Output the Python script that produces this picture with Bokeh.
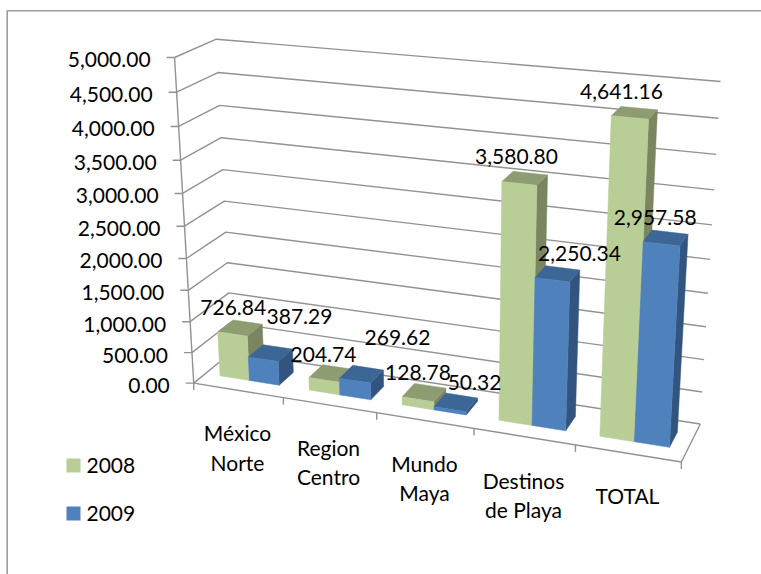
import numpy as np
from bokeh.plotting import figure
from bokeh.models import Range1d
from bokeh.core.properties import value
from bokeh.embed import file_html
from bokeh.resources import INLINE

# ---------- data ----------
categories = ["México Norte", "Region Centro", "Mundo Maya", "Destinos de Playa", "TOTAL"]
cat_lines = [["México", "Norte"], ["Region", "Centro"], ["Mundo", "Maya"], ["Destinos", "de Playa"], ["TOTAL"]]
values_2008 = [726.84, 204.74, 128.78, 3580.80, 4641.16]
values_2009 = [387.29, 269.62, 50.32, 2250.34, 2957.58]
ticks = [0, 500, 1000, 1500, 2000, 2500, 3000, 3500, 4000, 4500, 5000]
tick_labels = ["%s" % format(t, ",.2f") for t in ticks]
series_names = ["2008", "2009"]

# ---------- layout: calibration of the 3-D view (pixel landmarks) ----------
FL = [(193,383),(191,352),(189,321),(188,290),(186,258),(184.5,226),(183,193),(181,159),(178,125.5),(176,91),(174,57)]
BL = [(232,350),(230,321.5),(228,292.5),(227,263),(225,232),(224,201),(222,170),(220,137),(219,105),(217,72),(216,38.7)]
BR = [(700,423),(702,392),(703.7,359),(705.7,326),(708.3,292),(709.3,259),(711.7,225),(713.3,189),(715.7,154),(717.7,118),(720,81)]
FRONT = [(283,398),(376.7,412),(472.7,429),(574.3,444.3),(680.7,461)]

obj, img = [], []
for t, a, b, c in zip(ticks, FL, BL, BR):
    obj += [(0, 0, t), (0, 1, t), (5, 1, t)]
    img += [a, b, c]
for i, f in enumerate(FRONT):
    obj.append((i + 1, 0, 0))
    img.append(f)
S = 700.0
A = []
for (u, d, z), (x, y) in zip(obj, img):
    X = [u / 5, d, z / 5000, 1]
    x, y = x / S, y / S
    A.append(X + [0, 0, 0, 0] + [-x * v for v in X])
    A.append([0, 0, 0, 0] + X + [-y * v for v in X])
P = np.linalg.svd(np.array(A))[2][-1].reshape(3, 4)

def proj(u, d, z):
    h = P @ np.array([u / 5, d, z / 5000, 1.0])
    return (S * h[0] / h[2], S * h[1] / h[2])

p = figure(width=761, height=574, x_range=Range1d(0, 761), y_range=Range1d(574, 0),
           x_axis_type=None, y_axis_type=None, toolbar_location=None,
           output_backend="svg", min_border=0, outline_line_color=None,
           background_fill_color="white", border_fill_color="white")
p.margin = (0, 0, 0, 0)

GRID = "#929292"
# chart frame
p.line([6.7, 6.7, 761], [574, 10.3, 10.3], line_color="#9c9c9c", line_width=1.6)

# walls
xs, ys = [], []
for t in ticks:
    pts = [proj(0, 0, t), proj(0, 1, t), proj(5, 1, t)]
    xs.append([q[0] for q in pts]); ys.append([q[1] for q in pts])
    a = proj(0, 0, t)
    xs.append([a[0] - 8, a[0]]); ys.append([a[1], a[1]])
# vertical axis
a, b = proj(0, 0, 0), proj(0, 0, 5000)
xs.append([a[0], b[0]]); ys.append([a[1], b[1]])
# floor
pts = [proj(0, 0, 0), proj(5, 0, 0), proj(5, 1, 0)]
xs.append([q[0] for q in pts]); ys.append([q[1] for q in pts])
for i in range(6):
    a = proj(i, 0, 0)
    xs.append([a[0], a[0]]); ys.append([a[1], a[1] + 7])
p.multi_line(xs, ys, line_color=GRID, line_width=1.4)

# bars, painted left to right
U0, UW, D0, D1 = 1 / 6, 1 / 3, 0.3, 0.7
COL = [("#B9CD96", "#8E9C72", "#7B8560"), ("#4F81BD", "#3C6695", "#31557F")]
bx, by, bc = [], [], []
def face(pts, c):
    bx.append([q[0] for q in pts]); by.append([q[1] for q in pts]); bc.append(c)
for i in range(len(categories)):
    for s, vals in enumerate([values_2008, values_2009]):
        v = vals[i]
        l, r = i + U0 + s * UW, i + U0 + (s + 1) * UW
        front, top, side = COL[s]
        face([proj(r, D0, 0), proj(r, D1, 0), proj(r, D1, v), proj(r, D0, v)], side)
        face([proj(l, D0, v), proj(r, D0, v), proj(r, D1, v), proj(l, D1, v)], top)
        face([proj(l, D0, 0), proj(r, D0, 0), proj(r, D0, v), proj(l, D0, v)], front)
p.patches(bx, by, fill_color=bc, line_color=bc, line_width=0.5)

FONT = value("Lato")
SIZE = "21px"
TXT = dict(text_font=FONT, text_font_size=SIZE, text_color="#000000", text_baseline="middle")

# value-axis labels
p.text([proj(0, 0, t)[0] - 24 for t in ticks], [proj(0, 0, t)[1] + 2.5 for t in ticks],
       text=tick_labels, text_align="right", **TXT)

# category labels
CAT_X = [237, 328, 424, 523, 627]
CAT_Y = [[431.5, 461.5], [446.5, 475.5], [462.5, 491.5], [479.5, 508.5], [494.5]]
tx, ty, tt = [], [], []
for x, yl, ll in zip(CAT_X, CAT_Y, cat_lines):
    for y, t in zip(yl, ll):
        tx.append(x); ty.append(y); tt.append(t)
p.text(tx, ty, text=tt, text_align="center", **TXT)

# data labels
LBL_2008 = [(232.7, 307), (323, 354), (417.5, 372), (516, 156), (621, 90.7)]
LBL_2009 = [(299, 316), (397, 336.7), (474, 382), (579, 253), (654.7, 217)]
for pos, vals in ((LBL_2008, values_2008), (LBL_2009, values_2009)):
    p.text([q[0] for q in pos], [q[1] for q in pos],
           text=[format(v, ",.2f") for v in vals], text_align="center", **TXT)

# legend
LEG_Y = [465, 513]
for y, name, c in zip(LEG_Y, series_names, COL):
    p.quad(left=66, right=80, top=y - 7, bottom=y + 7, fill_color=c[0], line_color=None)
    p.text([86], [y - 0.5], text=[name], text_align="left", **TXT)

open("out.html", "w").write(file_html(p, INLINE))
